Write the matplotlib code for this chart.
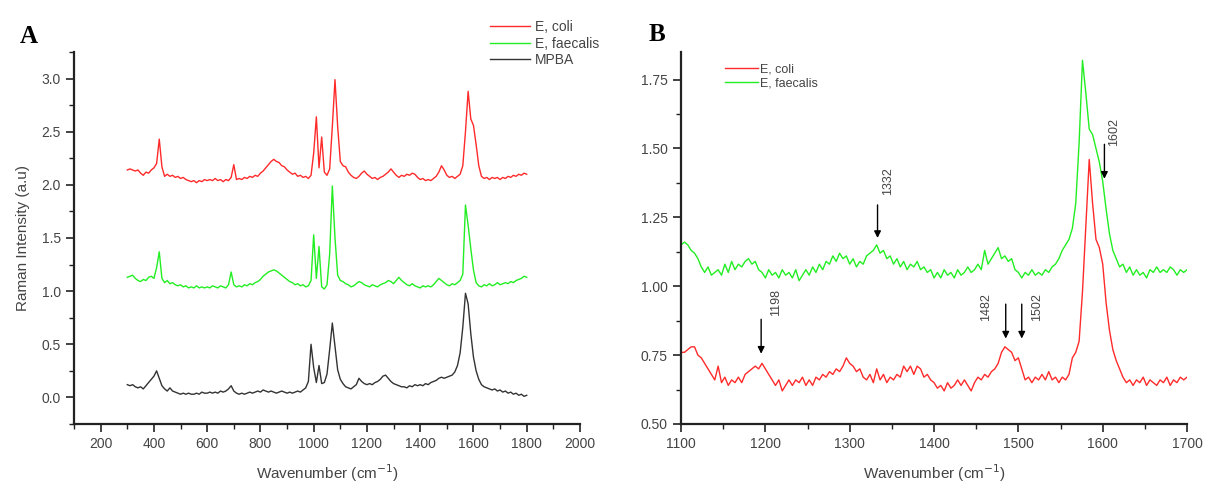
import numpy as np
import matplotlib
matplotlib.use("Agg")
import matplotlib.pyplot as plt
from matplotlib.ticker import MultipleLocator

plt.rcParams['font.family'] = ['Liberation Sans', 'DejaVu Sans']

# ---*** DATA ***---
# panel A, 300..1800 every 10 cm-1
wnA = np.arange(300, 1801, 10)
coliA = [2.14, 2.15, 2.14, 2.13, 2.14, 2.11, 2.09, 2.12, 2.11, 2.14,
         2.16, 2.20, 2.43, 2.17, 2.08, 2.10, 2.08, 2.09, 2.07, 2.08,
         2.06, 2.07, 2.05, 2.04, 2.03, 2.04, 2.02, 2.04, 2.03, 2.05,
         2.04, 2.05, 2.04, 2.06, 2.04, 2.05, 2.03, 2.05, 2.04, 2.07,
         2.19, 2.05, 2.06, 2.05, 2.07, 2.06, 2.08, 2.07, 2.09, 2.08,
         2.11, 2.13, 2.16, 2.19, 2.22, 2.24, 2.22, 2.21, 2.18, 2.17,
         2.14, 2.12, 2.10, 2.11, 2.08, 2.09, 2.07, 2.08, 2.06, 2.09,
         2.30, 2.64, 2.16, 2.45, 2.12, 2.09, 2.15, 2.55, 2.99, 2.55,
         2.22, 2.18, 2.17, 2.12, 2.09, 2.07, 2.06, 2.08, 2.11, 2.13,
         2.10, 2.08, 2.06, 2.07, 2.05, 2.07, 2.08, 2.10, 2.12, 2.15,
         2.12, 2.09, 2.07, 2.09, 2.08, 2.10, 2.09, 2.11, 2.10, 2.07,
         2.05, 2.06, 2.04, 2.05, 2.04, 2.06, 2.08, 2.12, 2.18, 2.14,
         2.09, 2.07, 2.08, 2.06, 2.08, 2.10, 2.18, 2.50, 2.88, 2.62,
         2.56, 2.38, 2.18, 2.08, 2.06, 2.07, 2.05, 2.07, 2.06, 2.07,
         2.05, 2.07, 2.06, 2.08, 2.07, 2.09, 2.08, 2.10, 2.09, 2.11,
         2.10]
faecA = [1.13, 1.14, 1.15, 1.12, 1.10, 1.09, 1.11, 1.10, 1.13, 1.14,
         1.12, 1.22, 1.37, 1.12, 1.08, 1.10, 1.07, 1.08, 1.06, 1.05,
         1.06, 1.04, 1.05, 1.03, 1.04, 1.03, 1.05, 1.03, 1.04, 1.03,
         1.04, 1.03, 1.05, 1.04, 1.03, 1.05, 1.04, 1.03, 1.06, 1.18,
         1.06, 1.04, 1.05, 1.04, 1.06, 1.05, 1.07, 1.06, 1.08, 1.09,
         1.11, 1.14, 1.16, 1.18, 1.19, 1.20, 1.19, 1.17, 1.15, 1.13,
         1.11, 1.09, 1.08, 1.06, 1.07, 1.05, 1.06, 1.04, 1.05, 1.10,
         1.53, 1.12, 1.42, 1.04, 1.02, 1.06, 1.35, 1.99, 1.50, 1.15,
         1.10, 1.09, 1.07, 1.06, 1.04, 1.05, 1.07, 1.09, 1.08, 1.06,
         1.05, 1.04, 1.06, 1.05, 1.04, 1.06, 1.07, 1.08, 1.10, 1.09,
         1.07, 1.10, 1.13, 1.10, 1.08, 1.06, 1.05, 1.07, 1.05, 1.04,
         1.03, 1.05, 1.04, 1.05, 1.04, 1.06, 1.09, 1.12, 1.10, 1.08,
         1.06, 1.05, 1.07, 1.06, 1.08, 1.10, 1.16, 1.81, 1.62, 1.40,
         1.20, 1.08, 1.05, 1.04, 1.06, 1.05, 1.07, 1.05, 1.06, 1.08,
         1.06, 1.07, 1.08, 1.07, 1.09, 1.08, 1.10, 1.11, 1.12, 1.14,
         1.13]
mpba = [0.12, 0.11, 0.12, 0.10, 0.09, 0.10, 0.08, 0.11, 0.14, 0.17,
        0.20, 0.25, 0.18, 0.11, 0.08, 0.06, 0.09, 0.06, 0.05, 0.04,
        0.03, 0.04, 0.03, 0.04, 0.03, 0.03, 0.04, 0.03, 0.05, 0.04,
        0.04, 0.05, 0.04, 0.05, 0.04, 0.06, 0.05, 0.06, 0.08, 0.11,
        0.06, 0.04, 0.03, 0.04, 0.03, 0.04, 0.05, 0.04, 0.05, 0.06,
        0.05, 0.07, 0.06, 0.05, 0.06, 0.05, 0.04, 0.05, 0.06, 0.05,
        0.04, 0.05, 0.04, 0.05, 0.06, 0.05, 0.07, 0.09, 0.15, 0.50,
        0.28, 0.14, 0.30, 0.13, 0.14, 0.22, 0.45, 0.70, 0.48, 0.26,
        0.17, 0.13, 0.10, 0.09, 0.08, 0.10, 0.12, 0.18, 0.15, 0.13,
        0.12, 0.13, 0.12, 0.14, 0.15, 0.17, 0.20, 0.21, 0.18, 0.15,
        0.13, 0.12, 0.11, 0.10, 0.10, 0.09, 0.11, 0.10, 0.12, 0.11,
        0.12, 0.11, 0.13, 0.12, 0.14, 0.15, 0.16, 0.18, 0.19, 0.18,
        0.19, 0.20, 0.21, 0.24, 0.30, 0.42, 0.66, 0.98, 0.88, 0.60,
        0.38, 0.25, 0.17, 0.12, 0.10, 0.09, 0.08, 0.07, 0.08, 0.06,
        0.07, 0.05, 0.06, 0.04, 0.05, 0.03, 0.04, 0.02, 0.03, 0.01,
        0.02]

# panel B, 1100..1700 every 4 cm-1
wnB = np.arange(1100, 1701, 4)
coliB = [0.76, 0.76, 0.77, 0.78, 0.78, 0.75, 0.74, 0.72, 0.70, 0.68,
         0.66, 0.71, 0.65, 0.67, 0.64, 0.66, 0.65, 0.67, 0.65, 0.68,
         0.69, 0.70, 0.71, 0.70, 0.72, 0.70, 0.68, 0.66, 0.64, 0.66,
         0.62, 0.64, 0.66, 0.64, 0.66, 0.65, 0.67, 0.64, 0.66, 0.64,
         0.67, 0.66, 0.68, 0.67, 0.69, 0.68, 0.70, 0.69, 0.71, 0.74,
         0.72, 0.71, 0.69, 0.70, 0.67, 0.66, 0.68, 0.65, 0.70, 0.66,
         0.68, 0.65, 0.67, 0.66, 0.68, 0.67, 0.71, 0.69, 0.71, 0.68,
         0.71, 0.70, 0.67, 0.68, 0.66, 0.65, 0.63, 0.64, 0.62, 0.65,
         0.63, 0.64, 0.66, 0.64, 0.66, 0.64, 0.62, 0.65, 0.67, 0.66,
         0.68, 0.67, 0.69, 0.70, 0.72, 0.76, 0.78, 0.77, 0.76, 0.73,
         0.74, 0.70, 0.66, 0.67, 0.65, 0.67, 0.66, 0.68, 0.66, 0.69,
         0.66, 0.67, 0.65, 0.67, 0.66, 0.68, 0.74, 0.76, 0.80, 0.98,
         1.22, 1.46, 1.30, 1.17, 1.14, 1.08, 0.94, 0.84, 0.77, 0.73,
         0.70, 0.67, 0.65, 0.66, 0.64, 0.66, 0.65, 0.67, 0.64, 0.66,
         0.65, 0.64, 0.66, 0.65, 0.67, 0.64, 0.66, 0.65, 0.67, 0.66,
         0.67]
faecB = [1.15, 1.16, 1.15, 1.13, 1.12, 1.10, 1.07, 1.05, 1.07, 1.04,
         1.05, 1.06, 1.04, 1.08, 1.05, 1.09, 1.06, 1.08, 1.07, 1.09,
         1.10, 1.08, 1.09, 1.06, 1.05, 1.03, 1.06, 1.04, 1.05, 1.03,
         1.06, 1.04, 1.05, 1.03, 1.06, 1.02, 1.04, 1.06, 1.04, 1.07,
         1.05, 1.08, 1.06, 1.09, 1.08, 1.11, 1.09, 1.12, 1.10, 1.11,
         1.08, 1.10, 1.07, 1.09, 1.08, 1.11, 1.12, 1.13, 1.15, 1.12,
         1.13, 1.10, 1.11, 1.08, 1.10, 1.07, 1.09, 1.06, 1.08, 1.07,
         1.09, 1.06, 1.07, 1.05, 1.06, 1.03, 1.05, 1.03, 1.06, 1.04,
         1.05, 1.03, 1.06, 1.04, 1.05, 1.07, 1.05, 1.06, 1.08, 1.06,
         1.13, 1.08, 1.10, 1.12, 1.14, 1.10, 1.11, 1.09, 1.10, 1.06,
         1.05, 1.03, 1.05, 1.04, 1.06, 1.04, 1.05, 1.04, 1.06, 1.05,
         1.07, 1.08, 1.10, 1.13, 1.15, 1.17, 1.21, 1.30, 1.52, 1.82,
         1.70, 1.57, 1.55, 1.50, 1.45, 1.38, 1.28, 1.19, 1.13, 1.10,
         1.07, 1.08, 1.05, 1.07, 1.04, 1.06, 1.04, 1.05, 1.03, 1.06,
         1.05, 1.07, 1.05, 1.06, 1.05, 1.07, 1.06, 1.04, 1.06, 1.05,
         1.06]

# peak marks in B: (label, wavenumber, arrow top, arrow tip, text x, text y)
marks = [("1198", 1195, 0.88, 0.755, 1213, 0.94),
         ("1332", 1333, 1.295, 1.175, 1346, 1.38),
         ("1482", 1485, 0.935, 0.81, 1462, 0.925),
         ("1502", 1504, 0.935, 0.81, 1522, 0.925),
         ("1602", 1602, 1.515, 1.39, 1614, 1.56)]

red = "#ff2a2a"
green = "#22ee22"
dark = "#333333"
grey = "#444444"

# ---*** PLOT ***---
fig = plt.figure(figsize=(12.06, 4.86), dpi=100)
axA = fig.add_axes([0.0614, 0.1276, 0.4195, 0.7654])
axB = fig.add_axes([0.5647, 0.1276, 0.4196, 0.7654])

axA.plot(wnA, coliA, color=red, lw=1.0, label="E, coli")
axA.plot(wnA, faecA, color=green, lw=1.0, label="E, faecalis")
axA.plot(wnA, mpba, color=dark, lw=1.0, label="MPBA")
axA.set_xlim(100, 2000)
axA.set_ylim(-0.25, 3.25)
axA.xaxis.set_major_locator(MultipleLocator(200))
axA.xaxis.set_minor_locator(MultipleLocator(100))
axA.yaxis.set_major_locator(MultipleLocator(0.5))
axA.yaxis.set_minor_locator(MultipleLocator(0.25))
axA.yaxis.set_major_formatter(plt.FormatStrFormatter("%.1f"))
axA.set_ylabel("Raman Intensity (a.u)", fontsize=11, color=grey, labelpad=8)
axA.set_xlabel("Wavenumber (cm$^{-1}$)", fontsize=11, color=grey, labelpad=8)
fig.legend(handles=axA.get_lines(), loc="upper left", bbox_to_anchor=(0.396, 0.985),
           frameon=False, fontsize=10, handlelength=2.9, handletextpad=0.3,
           labelspacing=0.2, labelcolor=grey)

axB.plot(wnB, coliB, color=red, lw=1.0, label="E, coli")
axB.plot(wnB, faecB, color=green, lw=1.0, label="E, faecalis")
axB.set_xlim(1100, 1700)
axB.set_ylim(0.5, 1.85)
axB.xaxis.set_major_locator(MultipleLocator(100))
axB.xaxis.set_minor_locator(MultipleLocator(50))
axB.yaxis.set_major_locator(MultipleLocator(0.25))
axB.yaxis.set_minor_locator(MultipleLocator(0.125))
axB.yaxis.set_major_formatter(plt.FormatStrFormatter("%.2f"))
axB.set_xlabel("Wavenumber (cm$^{-1}$)", fontsize=11, color=grey, labelpad=8)
axB.legend(loc="upper left", bbox_to_anchor=(0.065, 1.0), frameon=False, fontsize=9,
           handlelength=2.6, handletextpad=0.2, labelspacing=0.15, labelcolor=grey)

for lab, x, top, tip, tx, ty in marks:
    axB.annotate("", xy=(x, tip), xytext=(x, top),
                 arrowprops=dict(arrowstyle="-|>", color="black", lw=1.0,
                                 mutation_scale=10, shrinkA=0, shrinkB=0))
    axB.text(tx, ty, lab, rotation=90, fontsize=9, color=grey, ha="center", va="center")

for ax in (axA, axB):
    for s in ("top", "right"):
        ax.spines[s].set_visible(False)
    for s in ("left", "bottom"):
        ax.spines[s].set_linewidth(1.6)
        ax.spines[s].set_color("#222222")
    ax.tick_params(which="major", direction="out", length=6, width=1.2,
                   labelsize=10, labelcolor=grey, color="#222222")
    ax.tick_params(which="minor", direction="out", length=3.5, width=1.0, color="#222222")

fig.text(0.016, 0.924, "A", fontsize=18, fontweight="bold", family="Liberation Serif",
         va="center")
fig.text(0.538, 0.928, "B", fontsize=18, fontweight="bold", family="Liberation Serif",
         va="center")

fig.savefig("out.png", dpi=100)
